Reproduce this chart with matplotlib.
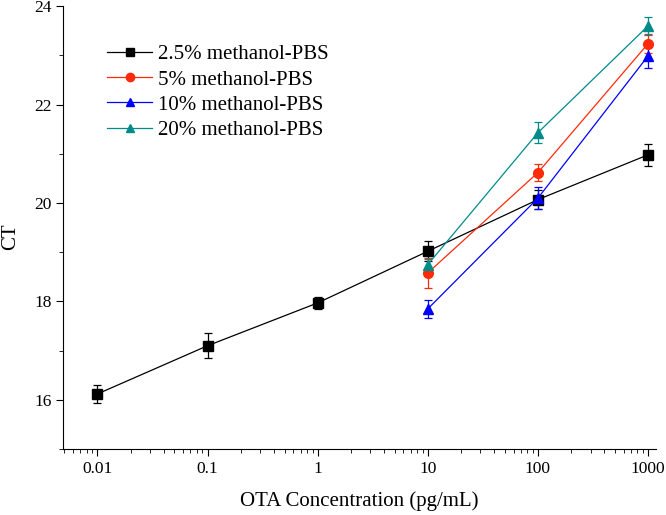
import numpy as np
import matplotlib.pyplot as plt
from matplotlib.lines import Line2D

plt.rcParams['font.family'] = ['Liberation Serif', 'DejaVu Serif']

# Data
conc_black = [0.01, 0.1, 1, 10, 100, 1000]
ct_black = [16.12, 17.10, 17.97, 19.02, 20.07, 20.98]
err_black = [0.19, 0.25, 0.12, 0.20, 0.20, 0.22]

conc_other = [10, 100, 1000]
ct_red = [18.58, 20.62, 23.24]
err_red = [0.30, 0.18, 0.20]
ct_blue = [17.85, 20.10, 22.99]
err_blue = [0.18, 0.22, 0.25]
ct_teal = [18.75, 21.43, 23.60]
err_teal = [0.12, 0.22, 0.18]

labels = ['2.5% methanol-PBS', '5% methanol-PBS', '10% methanol-PBS', '20% methanol-PBS']

fig = plt.figure(figsize=(6.66, 5.15), dpi=100)
ax = fig.add_axes([0.095, 0.128, 0.89, 0.86])

series = [
    (conc_black, ct_black, err_black, 'black', 's', labels[0]),
    (conc_other, ct_red, err_red, '#ff2a0a', 'o', labels[1]),
    (conc_other, ct_blue, err_blue, '#0000ff', '^', labels[2]),
    (conc_other, ct_teal, err_teal, '#008b8b', '^', labels[3]),
]
handles = []
for x, y, e, c, m, lab in series:
    ax.errorbar(x, y, yerr=e, color=c, marker=m, ms=7, lw=0.9,
                elinewidth=0.9, capsize=3, capthick=0.9)
    handles.append(Line2D([], [], color=c, marker=m, ms=6, lw=0.9, label=lab))

ax.set_xscale('log')
ax.set_xlim(0.0049, 1180)
ax.set_ylim(15, 24)
ax.set_xticks([0.01, 0.1, 1, 10, 100, 1000])
ax.set_xticklabels(['0.01', '0.1', '1', '10', '100', '1000'])
ax.set_yticks([16, 18, 20, 22, 24])
ax.set_yticks([15, 17, 19, 21, 23], minor=True)
ax.tick_params(which='major', direction='out', length=5, labelsize=12.5)
ax.tick_params(which='minor', direction='out', length=3)
ax.tick_params(axis='x', which='minor', labelbottom=False)

for s in ['top', 'right']:
    ax.spines[s].set_visible(False)

ax.set_xlabel('OTA Concentration (pg/mL)', fontsize=15, labelpad=10)
ax.set_ylabel('CT', fontsize=15)
ax.yaxis.set_label_coords(-0.072, 0.48)

ax.legend(handles=handles, loc='upper left', bbox_to_anchor=(0.074, 0.913),
          frameon=False, fontsize=15, handlelength=2.15, labelspacing=0.27,
          handletextpad=0.3, borderpad=0, borderaxespad=0)

plt.savefig('out.png', dpi=100)
